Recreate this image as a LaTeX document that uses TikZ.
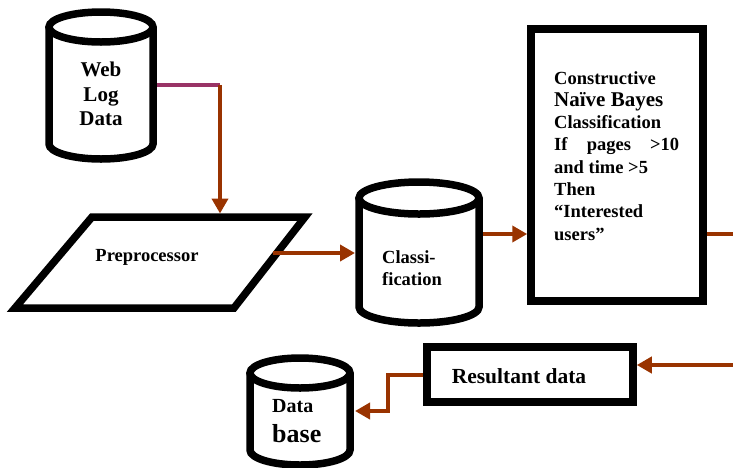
\documentclass[tikz,border=0pt]{standalone}
\usepackage{fontspec}
\setmainfont{Liberation Serif}
\usetikzlibrary{arrows.meta}
\definecolor{brn}{RGB}{153,51,0}
\definecolor{mag}{RGB}{153,51,102}
\newcommand\mycyl[5]{%
  \fill[white] (#1-#4,#2) -- (#1-#4,#3) arc[start angle=180,end angle=360,x radius=#4pt,y radius=#5pt] -- (#1+#4,#2) -- cycle;
  \draw[cylline] (#1-#4,#2) -- (#1-#4,#3) arc[start angle=180,end angle=360,x radius=#4pt,y radius=#5pt] -- (#1+#4,#2);
  \draw[cylline] (#1,#2) ellipse[x radius=#4pt,y radius=#5pt];
}
\begin{document}
\begin{tikzpicture}[x=1pt,y=1pt,
  cylline/.style={line width=7.5pt, draw=black},
  shapeline/.style={line width=7.5pt, draw=black, fill=white, line join=miter},
  boxline/.style={line width=7.5pt, draw=black, fill=white, inner sep=0pt},
  conn/.style={line width=4pt, draw=brn, line join=miter},
  arr/.style={conn, -{Triangle[length=15pt,width=16pt]}},
  ph/.style={inner sep=0pt, outer sep=0pt, draw=none},
  lbl/.style={inner sep=0pt, font=\bfseries},
]
\useasboundingbox (0,0) rectangle (733,-467);

% Web Log Data cylinder
\mycyl{101}{-27}{-144}{52}{15}
\node[ph, minimum width=112pt, minimum height=156pt] (web) at (101,-85) {};
\node[lbl, align=center, font=\bfseries\fontsize{21}{24.5}\selectfont] (webt) at (101,-94) {Web\\Log\\Data};

% Preprocessor parallelogram
\coordinate (pA) at (92,-217);
\coordinate (pB) at (305,-217);
\coordinate (pC) at (234,-308);
\coordinate (pD) at (15,-308);
\draw[shapeline] (pA) -- (pB) -- (pC) -- (pD) -- cycle;
\node[lbl, font=\bfseries\fontsize{18.5}{22}\selectfont] (pre) at (147,-257) {Preprocessor};

% Classification cylinder
\mycyl{419}{-198}{-307}{60}{16}
\node[ph, minimum width=128pt, minimum height=150pt] (cls) at (419,-252) {};
\node[lbl, align=left, anchor=west, font=\bfseries\fontsize{18.5}{22}\selectfont] (clst) at (382,-268) {Classi-\\fication};

% Constructive Naive Bayes box
\node[boxline, minimum width=172pt, minimum height=272pt] (cnb) at (617,-165) {};
\node[lbl, align=left, anchor=north west, font=\bfseries\fontsize{18.5}{22.3}\selectfont] (cnbt) at (554,-71)
  {Constructive\\{\fontsize{21}{22.3}\selectfont Naïve Bayes}\\Classification\\\makebox[125pt][s]{If pages >10}\\and time >5\\Then\\“Interested\\users”};

% Resultant data box
\node[boxline, minimum width=206pt, minimum height=55pt] (res) at (530,-374.5) {};
\node[lbl, font=\bfseries\fontsize{21.5}{24}\selectfont] (rest) at (519,-376) {Resultant data};

% Database cylinder
\mycyl{300}{-373}{-450}{50}{15}
\node[ph, minimum width=110pt, minimum height=115pt] (db) at (300,-410) {};
\node[lbl, align=left, anchor=base west, font=\bfseries\fontsize{20}{24}\selectfont] (dbt1) at (272,-412) {Data};
\node[lbl, align=left, anchor=base west, font=\bfseries\fontsize{26}{28}\selectfont] (dbt2) at (272,-442) {base};

% connectors
\coordinate (wc) at (220,-85);
\coordinate (pIn) at (220,-213.5);
\coordinate (pOut) at (273,-253);
\coordinate (y234) at (0,-234);
\coordinate (y411) at (0,-411);
\coordinate (outR) at (733,-234);
\coordinate (inR) at (733,-365);

\draw[conn, draw=mag] (web.east) -- (wc);
\draw[arr] (wc) -- (pIn);
\draw[arr] (pOut) -- (pOut -| cls.west);
\draw[arr] (cls.east |- y234) -- (cnb.west |- y234);
\draw[conn] (cnb.east |- y234) -- (outR);
\draw[arr] (inR) -- (inR -| res.east);
\draw[arr] (res.west) -- ++(-35,0) |- (db.east |- y411);
\end{tikzpicture}
\end{document}
